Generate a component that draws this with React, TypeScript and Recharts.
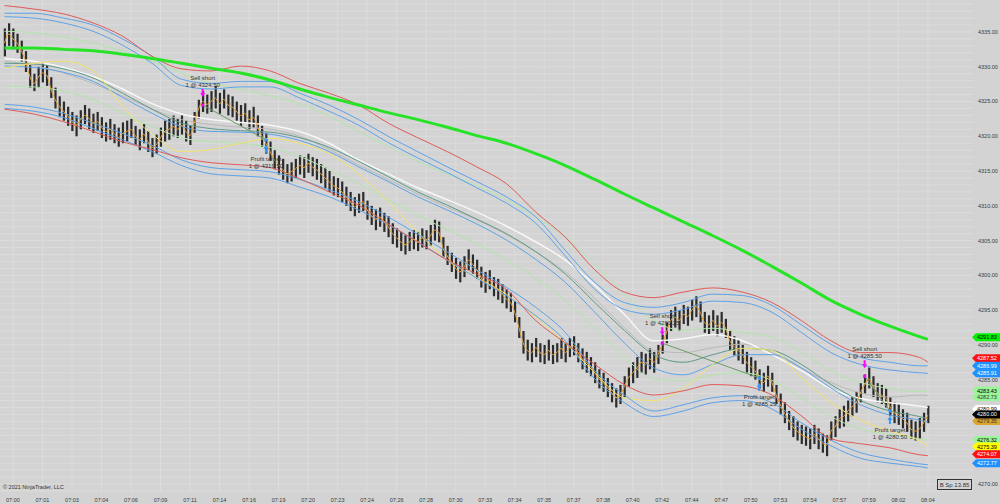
import React from 'react';
import { ComposedChart, Line, Bar, XAxis, YAxis, CartesianGrid, ReferenceLine, ReferenceDot } from 'recharts';

const FONT = '"Liberation Sans", Arial, sans-serif';

// time labels sit every 7 bars
const timeLabels = ['07:00', '07:01', '07:03', '07:04', '07:06', '07:09', '07:11', '07:14', '07:16', '07:19', '07:20', '07:23', '07:24', '07:26', '07:28', '07:30', '07:33', '07:34', '07:35', '07:37', '07:38', '07:40', '07:42', '07:44', '07:47', '07:50', '07:53', '07:54', '07:57', '07:59', '08:02', '08:04'];
const labelBars = [2, 9, 16, 23, 30, 37, 44, 51, 58, 65, 72, 79, 86, 93, 100, 107, 114, 121, 128, 135, 142, 149, 156, 163, 170, 177, 184, 191, 198, 205, 212, 219];
const priceTicks = [4270, 4285, 4290, 4295, 4300, 4305, 4310, 4315, 4320, 4325, 4330, 4335];

// price bars
const barLow = [
  4331.5, 4333.0, 4332.5, 4332.0, 4330.75, 4329.25, 4327.0, 4326.5, 4327.0, 4327.75,
  4327.25, 4325.5, 4324.0, 4322.75, 4322.25, 4321.5, 4320.75, 4320.0, 4321.0, 4321.75,
  4321.0, 4320.5, 4320.75, 4319.75, 4319.25, 4319.5, 4319.0, 4318.5, 4319.0, 4319.25,
  4319.75, 4318.75, 4318.0, 4319.0, 4317.75, 4317.0, 4317.5, 4318.5, 4319.25, 4319.5,
  4320.0, 4319.75, 4320.25, 4319.25, 4318.75, 4320.5, 4322.5, 4323.5, 4323.25, 4323.5,
  4324.0, 4323.25, 4324.0, 4323.0, 4322.75, 4322.25, 4321.5, 4322.0, 4321.0, 4321.25,
  4320.0, 4318.5, 4317.5, 4316.5, 4315.25, 4314.5, 4313.75, 4313.25, 4313.5, 4314.0,
  4314.5, 4314.0, 4314.75, 4314.25, 4313.75, 4313.25, 4312.5, 4312.0, 4311.5, 4311.25,
  4310.5, 4310.0, 4309.25, 4308.5, 4309.0, 4309.25, 4308.0, 4307.25, 4306.5, 4307.0,
  4306.25, 4305.5, 4304.5, 4304.0, 4303.5, 4303.0, 4303.5, 4303.75, 4303.5, 4304.0,
  4303.75, 4304.25, 4305.0, 4304.75, 4302.5, 4301.5, 4300.5, 4299.5, 4299.0, 4299.75,
  4300.75, 4300.25, 4299.5, 4298.25, 4297.5, 4298.0, 4297.0, 4296.5, 4296.0, 4295.25,
  4294.75, 4293.25, 4291.0, 4288.75, 4287.75, 4287.5, 4288.25, 4287.5, 4287.25, 4287.75,
  4287.25, 4287.5, 4288.0, 4287.5, 4288.25, 4288.5, 4287.5, 4286.5, 4286.0, 4285.5,
  4284.5, 4283.75, 4283.25, 4282.5, 4281.75, 4281.0, 4281.5, 4282.5, 4284.0, 4284.5,
  4285.25, 4286.0, 4285.75, 4286.5, 4286.0, 4287.25, 4288.75, 4290.25, 4292.0, 4292.5,
  4292.0, 4293.0, 4292.75, 4293.5, 4294.0, 4293.25, 4291.75, 4291.5, 4292.0, 4291.25,
  4291.75, 4291.0, 4289.25, 4288.5, 4287.75, 4287.25, 4286.0, 4285.5, 4285.0, 4283.75,
  4283.25, 4284.0, 4283.25, 4281.5, 4280.0, 4278.75, 4277.75, 4276.75, 4276.25, 4275.75,
  4275.5, 4275.0, 4275.75, 4275.0, 4274.5, 4274.0, 4276.25, 4276.75, 4278.0, 4278.25,
  4279.0, 4279.75, 4280.25, 4281.75, 4283.0, 4283.75, 4282.5, 4281.75, 4281.5, 4281.0,
  4279.75, 4278.75, 4278.5, 4278.0, 4277.5, 4276.5, 4276.25, 4276.5, 4277.5, 4278.75,
];
const barHigh = [
  4335.5, 4336.25, 4335.5, 4334.75, 4333.75, 4332.25, 4330.25, 4329.0, 4330.0, 4330.5,
  4330.25, 4328.5, 4327.0, 4325.75, 4325.0, 4324.25, 4323.5, 4323.0, 4323.75, 4324.5,
  4324.0, 4323.25, 4323.5, 4322.75, 4322.0, 4322.5, 4321.75, 4321.25, 4322.0, 4322.25,
  4322.5, 4321.5, 4321.0, 4321.75, 4320.75, 4319.75, 4320.25, 4321.25, 4322.25, 4322.5,
  4323.0, 4322.5, 4323.0, 4322.25, 4321.5, 4323.5, 4325.25, 4326.5, 4326.0, 4326.5,
  4327.25, 4326.25, 4326.75, 4326.0, 4325.75, 4325.0, 4324.5, 4324.75, 4323.75, 4324.25,
  4323.0, 4321.5, 4320.5, 4319.25, 4318.0, 4317.25, 4316.75, 4316.0, 4316.25, 4316.75,
  4317.25, 4317.0, 4317.5, 4317.0, 4316.75, 4316.0, 4315.5, 4315.0, 4314.25, 4314.0,
  4313.5, 4312.75, 4312.0, 4311.25, 4311.75, 4312.0, 4310.75, 4310.0, 4309.5, 4309.75,
  4309.0, 4308.5, 4307.5, 4306.75, 4306.25, 4305.75, 4306.25, 4306.5, 4306.25, 4306.75,
  4306.5, 4307.25, 4308.0, 4307.75, 4305.5, 4304.25, 4303.25, 4302.5, 4302.0, 4302.75,
  4303.75, 4303.0, 4302.25, 4301.25, 4300.5, 4300.75, 4299.75, 4299.5, 4298.75, 4298.0,
  4297.5, 4296.25, 4294.0, 4292.0, 4290.75, 4290.25, 4291.0, 4290.25, 4290.0, 4290.75,
  4290.0, 4290.25, 4291.0, 4290.25, 4291.0, 4291.25, 4290.25, 4289.5, 4289.0, 4288.25,
  4287.5, 4286.5, 4286.0, 4285.25, 4284.5, 4283.75, 4284.25, 4285.5, 4286.75, 4287.5,
  4288.25, 4289.0, 4288.75, 4289.5, 4289.0, 4290.0, 4291.5, 4293.25, 4295.0, 4295.5,
  4295.0, 4295.75, 4295.5, 4296.5, 4297.0, 4296.25, 4294.75, 4294.25, 4295.0, 4294.25,
  4294.75, 4293.75, 4292.0, 4291.25, 4290.75, 4290.0, 4289.0, 4288.25, 4287.75, 4286.5,
  4286.0, 4287.0, 4286.0, 4284.25, 4283.0, 4281.75, 4280.5, 4279.75, 4279.0, 4278.5,
  4278.25, 4278.0, 4278.5, 4278.0, 4277.25, 4277.0, 4279.0, 4279.75, 4280.75, 4281.25,
  4282.0, 4282.5, 4283.25, 4284.5, 4285.75, 4286.75, 4285.5, 4284.5, 4284.25, 4283.75,
  4282.5, 4281.75, 4281.5, 4280.75, 4280.25, 4279.25, 4279.0, 4279.5, 4280.25, 4281.25,
];
// fast average drawn through the bars
const fastAvg = [
  4333.4, 4334.7, 4334.0, 4333.4, 4332.3, 4330.8, 4328.6, 4327.6, 4328.5, 4329.1,
  4328.8, 4326.8, 4325.3, 4324.3, 4323.6, 4322.9, 4322.1, 4321.6, 4322.4, 4323.0,
  4322.6, 4321.9, 4322.1, 4321.3, 4320.7, 4321.0, 4320.4, 4319.8, 4320.4, 4320.7,
  4321.0, 4320.1, 4319.5, 4320.3, 4319.2, 4318.4, 4318.8, 4319.8, 4320.7, 4321.0,
  4321.4, 4321.0, 4321.6, 4320.7, 4320.1, 4321.9, 4323.9, 4325.0, 4324.6, 4325.0,
  4325.5, 4324.7, 4325.3, 4324.5, 4324.2, 4323.6, 4323.0, 4323.3, 4322.4, 4322.7,
  4321.4, 4320.0, 4319.0, 4317.8, 4316.6, 4315.9, 4315.2, 4314.6, 4314.9, 4315.3,
  4315.8, 4315.5, 4316.1, 4315.6, 4315.2, 4314.6, 4314.0, 4313.5, 4312.9, 4312.6,
  4312.0, 4311.3, 4310.6, 4309.9, 4310.3, 4310.6, 4309.4, 4308.6, 4308.0, 4308.4,
  4307.7, 4307.0, 4306.0, 4305.4, 4304.8, 4304.4, 4304.8, 4305.2, 4304.8, 4305.4,
  4305.1, 4305.7, 4306.5, 4306.2, 4303.9, 4302.8, 4301.9, 4301.0, 4300.5, 4301.2,
  4302.2, 4301.6, 4300.8, 4299.7, 4299.0, 4299.3, 4298.4, 4298.0, 4297.3, 4296.6,
  4296.1, 4294.7, 4292.5, 4290.3, 4289.2, 4288.9, 4289.6, 4288.9, 4288.6, 4289.2,
  4288.6, 4288.9, 4289.5, 4288.9, 4289.6, 4289.9, 4288.9, 4288.0, 4287.5, 4286.9,
  4286.0, 4285.1, 4284.6, 4283.8, 4283.1, 4282.4, 4282.8, 4284.0, 4285.3, 4286.0,
  4286.7, 4287.5, 4287.2, 4288.0, 4287.5, 4288.6, 4290.1, 4291.8, 4293.5, 4294.0,
  4293.5, 4294.4, 4294.1, 4295.0, 4295.5, 4294.7, 4293.2, 4292.9, 4293.5, 4292.7,
  4293.2, 4292.4, 4290.6, 4289.8, 4289.2, 4288.6, 4287.5, 4286.9, 4286.3, 4285.1,
  4284.6, 4285.5, 4284.6, 4282.8, 4281.4, 4280.2, 4279.1, 4278.2, 4277.6, 4277.1,
  4276.8, 4276.5, 4277.1, 4276.5, 4275.9, 4275.6, 4277.6, 4278.2, 4279.4, 4279.7,
  4280.5, 4281.1, 4281.7, 4283.1, 4284.3, 4285.1, 4284.0, 4283.1, 4282.8, 4282.3,
  4281.1, 4280.2, 4280.0, 4279.4, 4278.8, 4277.9, 4277.6, 4277.9, 4278.8, 4279.9,
];

// indicator lines, read at these bars
const lineBars = [0, 7, 14, 21, 28, 35, 42, 49, 56, 63, 70, 77, 84, 91, 98, 105, 112, 119, 126, 133, 140, 147, 154, 161, 168, 175, 182, 189, 196, 203, 210, 217, 219];
const smaSlow = [4332.7, 4332.7, 4332.5, 4332.3, 4331.8, 4331.2, 4330.5, 4329.8, 4329.1, 4328.1, 4326.8, 4325.6, 4324.5, 4323.4, 4322.4, 4321.3, 4320.1, 4319.0, 4317.5, 4315.8, 4313.8, 4311.7, 4309.7, 4307.7, 4305.7, 4303.6, 4301.3, 4298.9, 4296.4, 4294.4, 4292.7, 4291.2, 4290.8];
const redUpper = [4338.8, 4338.3, 4337.6, 4336.3, 4334.4, 4331.5, 4329.7, 4329.4, 4330.1, 4329.4, 4327.6, 4326.2, 4324.5, 4321.9, 4319.8, 4317.8, 4315.6, 4313.2, 4309.1, 4305.5, 4300.8, 4297.6, 4296.8, 4297.6, 4298.2, 4297.6, 4296.1, 4293.5, 4290.6, 4288.9, 4288.9, 4288.2, 4287.52];
const blueUpperA = [4337.7, 4337.7, 4337.0, 4336.0, 4334.0, 4331.5, 4328.2, 4327.6, 4327.9, 4327.9, 4326.2, 4324.5, 4322.4, 4320.0, 4317.8, 4315.6, 4313.5, 4311.3, 4308.4, 4303.6, 4299.0, 4296.1, 4295.4, 4296.1, 4297.3, 4297.1, 4295.7, 4292.9, 4290.1, 4288.2, 4287.5, 4287.0, 4286.99];
const blueUpperB = [4337.2, 4337.0, 4336.3, 4335.1, 4333.1, 4330.5, 4327.3, 4326.8, 4327.1, 4327.1, 4325.5, 4323.6, 4321.6, 4319.1, 4316.9, 4314.8, 4312.6, 4310.4, 4307.5, 4302.8, 4298.0, 4295.1, 4294.4, 4295.1, 4296.3, 4296.1, 4294.7, 4291.8, 4288.9, 4287.2, 4286.4, 4286.0, 4285.91];
const lgUpper = [4335.1, 4334.9, 4334.3, 4333.4, 4332.3, 4330.8, 4329.1, 4327.6, 4326.8, 4325.8, 4324.7, 4322.9, 4320.7, 4318.5, 4316.4, 4314.6, 4312.9, 4310.9, 4308.4, 4305.5, 4301.6, 4297.3, 4293.5, 4292.1, 4292.4, 4291.8, 4291.1, 4288.9, 4286.3, 4284.6, 4283.7, 4283.3, 4283.43];
const whiteMid = [4331.2, 4330.8, 4329.9, 4328.6, 4326.8, 4324.7, 4323.2, 4322.4, 4322.0, 4321.6, 4320.7, 4319.0, 4316.6, 4314.6, 4312.6, 4310.9, 4309.1, 4307.1, 4304.8, 4302.2, 4298.6, 4294.4, 4290.6, 4290.9, 4291.5, 4290.6, 4288.6, 4286.3, 4283.7, 4282.3, 4281.7, 4281.2, 4280.99];
const grayMid = [4330.8, 4330.2, 4329.1, 4327.6, 4325.8, 4323.9, 4322.4, 4321.7, 4321.3, 4321.0, 4320.0, 4318.1, 4315.9, 4313.8, 4311.7, 4309.8, 4308.0, 4305.9, 4303.4, 4300.5, 4296.7, 4292.5, 4289.2, 4288.9, 4289.6, 4290.1, 4288.9, 4286.6, 4284.6, 4283.1, 4282.5, 4282.8, 4282.73];
const tealMid = [4330.5, 4330.4, 4329.7, 4328.4, 4326.2, 4323.9, 4321.9, 4321.1, 4320.8, 4320.6, 4319.8, 4318.4, 4316.4, 4314.2, 4312.0, 4310.1, 4308.1, 4306.0, 4303.4, 4300.2, 4296.1, 4292.1, 4288.6, 4287.5, 4288.6, 4289.5, 4289.2, 4287.2, 4284.3, 4282.0, 4280.5, 4279.7, 4279.4];
const blueMid = [4330.1, 4329.9, 4329.2, 4327.9, 4325.6, 4323.3, 4321.4, 4320.7, 4320.6, 4320.3, 4319.4, 4317.8, 4315.6, 4313.5, 4311.3, 4309.4, 4307.4, 4305.1, 4302.3, 4299.0, 4294.7, 4290.3, 4286.7, 4285.7, 4287.2, 4288.6, 4288.6, 4286.7, 4283.8, 4281.4, 4279.9, 4279.2, 4278.9];
const yellowAvg = [4329.8, 4330.5, 4330.8, 4329.4, 4324.3, 4320.3, 4317.8, 4318.1, 4319.0, 4319.7, 4319.0, 4317.5, 4314.6, 4310.6, 4306.2, 4302.2, 4299.7, 4297.3, 4294.0, 4290.3, 4286.0, 4282.4, 4282.0, 4283.8, 4287.2, 4289.5, 4289.2, 4285.3, 4281.7, 4279.2, 4277.6, 4276.2, 4275.39];
const lgLower = [4327.2, 4327.1, 4326.5, 4325.3, 4323.3, 4321.4, 4319.8, 4319.2, 4319.0, 4318.4, 4317.1, 4315.2, 4313.2, 4310.9, 4308.6, 4306.6, 4304.5, 4302.2, 4299.6, 4296.4, 4292.4, 4288.3, 4285.1, 4284.9, 4285.7, 4286.0, 4284.9, 4282.4, 4279.7, 4277.9, 4277.1, 4276.5, 4276.32];
const redLower = [4323.9, 4323.2, 4322.1, 4320.7, 4319.2, 4318.1, 4316.9, 4316.2, 4315.9, 4315.5, 4313.9, 4312.0, 4310.1, 4307.4, 4304.8, 4302.2, 4300.2, 4298.0, 4293.5, 4290.3, 4287.2, 4284.3, 4282.8, 4283.4, 4284.3, 4284.1, 4282.8, 4279.8, 4276.5, 4275.8, 4275.2, 4274.2, 4274.07];
const blueLowerA = [4324.6, 4324.2, 4323.3, 4321.9, 4320.4, 4318.7, 4316.6, 4315.5, 4315.2, 4314.9, 4313.8, 4312.3, 4310.6, 4308.4, 4305.9, 4303.4, 4300.8, 4298.3, 4295.4, 4291.8, 4286.3, 4282.8, 4280.5, 4281.4, 4282.4, 4282.7, 4281.7, 4278.8, 4276.3, 4274.5, 4273.6, 4272.9, 4272.77];
const blueLowerB = [4324.0, 4323.6, 4322.7, 4321.1, 4319.5, 4317.8, 4315.8, 4314.6, 4314.3, 4314.0, 4312.7, 4311.3, 4309.4, 4307.3, 4304.8, 4302.2, 4299.6, 4297.1, 4294.2, 4290.6, 4285.1, 4281.7, 4279.7, 4280.5, 4281.7, 4282.0, 4280.8, 4277.9, 4275.5, 4273.7, 4273.0, 4272.5, 4272.3];

// last-value tags on the price axis
const tagValues = [4291.83, 4287.52, 4286.99, 4285.91, 4283.43, 4282.73, 4280.99, 4279.35, 4276.32, 4275.39, 4274.07, 4272.77, 4280.0];
const tagFills = ['#00f000', '#ff1010', '#1e90ff', '#1e90ff', '#98f598', '#98f598', '#ffffff', '#d9a52a', '#98f598', '#ffff00', '#ff1010', '#1e90ff', '#000000'];
const tagInk = ['#000', '#fff', '#fff', '#fff', '#000', '#333', '#000', '#333', '#000', '#000', '#fff', '#fff', '#fff'];
// pixel nudges so stacked tags do not cover each other (as the platform does)
const tagNudge = [5, -4, 0, 0, 0, 1.5, 1.5, 2, 0, 0, -1.5, -1.5, 0];

// trades
const entryBars = [47, 156, 204];
const entryPrices = [4324.5, 4290.25, 4285.5];
const exitBars = [62, 179, 210];
const exitPrices = [4319.5, 4285.25, 4280.5];

const lineSeries = [
  { key: 'lgUp', values: lgUpper, color: '#b2e6ab', width: 1 },
  { key: 'lgLo', values: lgLower, color: '#b2e6ab', width: 1 },
  { key: 'gray', values: grayMid, color: '#b9b9b9', width: 1 },
  { key: 'white', values: whiteMid, color: '#f7f7f7', width: 1.5 },
  { key: 'teal', values: tealMid, color: '#5c998a', width: 1 },
  { key: 'blueMid', values: blueMid, color: '#5da2e8', width: 1 },
  { key: 'yellow', values: yellowAvg, color: '#f1e36a', width: 1 },
  { key: 'bUpA', values: blueUpperA, color: '#5da2e8', width: 1 },
  { key: 'bUpB', values: blueUpperB, color: '#5da2e8', width: 1 },
  { key: 'bLoA', values: blueLowerA, color: '#5da2e8', width: 1 },
  { key: 'bLoB', values: blueLowerB, color: '#5da2e8', width: 1 },
  { key: 'rUp', values: redUpper, color: '#e05a5a', width: 1 },
  { key: 'rLo', values: redLower, color: '#e05a5a', width: 1 },
  { key: 'sma', values: smaSlow, color: '#27e327', width: 3 },
];

const data = barLow.map((lo, i) => {
  const row: any = { i, range: [lo, barHigh[i]], fast: fastAvg[i] };
  const k = lineBars.indexOf(i);
  if (k >= 0) lineSeries.forEach((s) => { row[s.key] = s.values[k]; });
  return row;
});

const gridPrices = Array.from({ length: 71 }, (_, n) => 4269 + n);

function PriceBar(props: any) {
  const { x, y, width, height } = props;
  const cx = x + width / 2;
  return <rect x={cx - 1.1} y={y} width={2.2} height={Math.max(height, 1)} fill="#2c2c2c" />;
}

function PriceTag({ viewBox, value, fill, ink, nudge }: any) {
  const x0 = viewBox.x + viewBox.width - 1;
  const y = viewBox.y + nudge;
  return (
    <g>
      <path d={`M${x0} ${y} L${x0 + 4} ${y - 4} L${x0 + 28} ${y - 4} L${x0 + 28} ${y + 4} L${x0 + 4} ${y + 4} Z`} fill={fill} />
      <text x={x0 + 5} y={y + 2} fontSize={5.5} fill={ink} fontFamily={FONT}>{value.toFixed(2)}</text>
    </g>
  );
}

function SellMark({ cx, cy, price }: any) {
  return (
    <g fontFamily={FONT} fontSize={6} fill="#333" textAnchor="middle">
      <text x={cx} y={cy - 25}>Sell short</text>
      <text x={cx} y={cy - 18}>{`1 @ ${price.toFixed(2)}`}</text>
      <rect x={cx - 1} y={cy - 16} width={2} height={4} fill="#ff00ff" />
      <path d={`M${cx - 2.5} ${cy - 12} L${cx + 2.5} ${cy - 12} L${cx} ${cy - 8} Z`} fill="#ff00ff" />
      <rect x={cx - 1.5} y={cy - 1.5} width={3} height={3} fill="#ff00ff" />
    </g>
  );
}

function TargetMark({ cx, cy, price }: any) {
  return (
    <g fontFamily={FONT} fontSize={6} fill="#333" textAnchor="middle">
      <rect x={cx - 1.5} y={cy - 1.5} width={3} height={3} fill="#3399ff" />
      <path d={`M${cx} ${cy + 5} L${cx + 2.5} ${cy + 9} L${cx - 2.5} ${cy + 9} Z`} fill="#3399ff" />
      <rect x={cx - 1} y={cy + 9} width={2} height={4} fill="#3399ff" />
      <text x={cx} y={cy + 21}>Profit target</text>
      <text x={cx} y={cy + 28}>{`1 @ ${price.toFixed(2)}`}</text>
    </g>
  );
}

export default function App() {
  return (
    <div style={{ position: 'absolute', left: 0, top: 0, width: 1000, height: 504, background: '#d3d3d3', fontFamily: FONT }}>
      <ComposedChart width={1000} height={504} data={data} margin={{ top: 0, right: 0, bottom: 0, left: 0 }}>
        <CartesianGrid horizontalValues={gridPrices} verticalValues={labelBars} stroke="#dcdcdc" strokeWidth={1} />
        <XAxis
          type="number"
          dataKey="i"
          domain={[-1.07, 229.7]}
          ticks={labelBars}
          interval={0}
          allowDataOverflow
          height={12}
          axisLine={false}
          tickLine={false}
          tickSize={0}
          tickMargin={6}
          tick={{ fontSize: 5.5, fill: '#3a3a3a', fontFamily: FONT }}
          tickFormatter={(v: number) => timeLabels[labelBars.indexOf(v)] ?? ''}
        />
        <YAxis
          orientation="right"
          domain={[4268.85, 4339.6]}
          ticks={priceTicks}
          interval={0}
          allowDataOverflow
          width={27}
          axisLine={false}
          tickLine={false}
          tickSize={0}
          tickMargin={5}
          tick={{ fontSize: 5.5, fill: '#3a3a3a', fontFamily: FONT }}
          tickFormatter={(v: number) => v.toFixed(2)}
        />
        {lineSeries.map((s) => (
          <Line key={s.key} dataKey={s.key} type="monotone" stroke={s.color} strokeWidth={s.width} dot={false} activeDot={false} connectNulls isAnimationActive={false} />
        ))}
        <Bar dataKey="range" barSize={3} shape={<PriceBar />} activeBar={false} isAnimationActive={false} />
        <Line dataKey="fast" type="monotone" stroke="#e9a23a" strokeWidth={1} dot={false} activeDot={false} isAnimationActive={false} />
        {entryBars.map((b, n) => (
          <ReferenceLine key={`tl${n}`} segment={[{ x: b, y: entryPrices[n] }, { x: exitBars[n], y: exitPrices[n] }]} stroke="#6a9a6a" strokeWidth={1} />
        ))}
        {entryBars.map((b, n) => (
          <ReferenceDot key={`s${n}`} x={b} y={entryPrices[n]} r={1} shape={(p: any) => <SellMark cx={p.cx} cy={p.cy} price={entryPrices[n]} />} />
        ))}
        {exitBars.map((b, n) => (
          <ReferenceDot key={`t${n}`} x={b} y={exitPrices[n]} r={1} shape={(p: any) => <TargetMark cx={p.cx} cy={p.cy} price={exitPrices[n]} />} />
        ))}
        {tagValues.map((v, n) => (
          <ReferenceLine key={`tag${n}`} y={v} stroke="none" label={(p: any) => <PriceTag viewBox={p.viewBox} value={v} fill={tagFills[n]} ink={tagInk[n]} nudge={tagNudge[n]} />} />
        ))}
      </ComposedChart>
      <svg width={1000} height={504} style={{ position: 'absolute', left: 0, top: 0, pointerEvents: 'none' }}>
        <text x={3} y={489} fontSize={5.5} fill="#333" fontFamily={FONT}>© 2021 NinjaTrader, LLC</text>
        <rect x={937.5} y={479.5} width={34} height={10} fill="none" stroke="#333" strokeWidth={1} />
        <text x={954.5} y={487} fontSize={6} fill="#333" textAnchor="middle" fontFamily={FONT}>B Sp 13.85</text>
      </svg>
    </div>
  );
}
